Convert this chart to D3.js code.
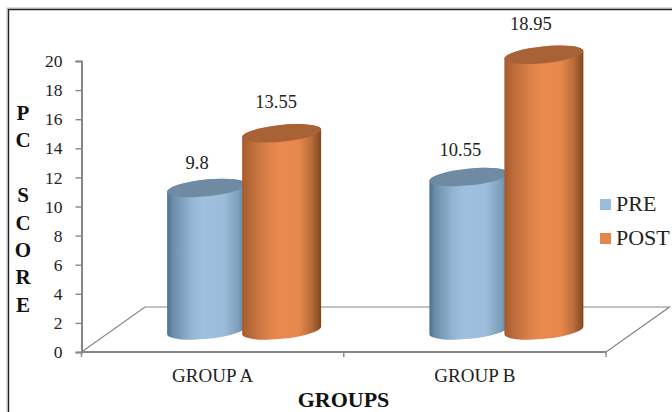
<!DOCTYPE html>
<html>
<head>
<meta charset="utf-8">
<script src="https://cdn.jsdelivr.net/npm/d3@7"></script>
<style>
  html, body { margin: 0; padding: 0; background: #fff; }
  svg { display: block; }
  text { font-family: "Liberation Serif", serif; fill: #222; }
</style>
</head>
<body>
<svg id="chart" width="672" height="412"></svg>
<script>
// Chart content
const groups = ["GROUP A", "GROUP B"];
const seriesNames = ["PRE", "POST"];
const preValues = [9.8, 10.55];
const postValues = [13.55, 18.95];
const yTicks = [0, 2, 4, 6, 8, 10, 12, 14, 16, 18, 20];
const yTitleLetters = ["P", "C", " ", "S", "C", "O", "R", "E"];
const xTitle = "GROUPS";

// Layout of the 3D plot box
const floorDepth = { dx: 63.5, dy: 45 };
const baseLift = 21.5;        // cylinder base centre sits this far above the front axis line
const depthShift = 31.5;      // cylinders stand mid-way into the floor
const cyl = { rx: 39.7, ry: 8.4, tilt: -5.75, step: 75 };

const svg = d3.select("#chart");
const y = d3.scaleLinear().domain([0, 20]).range([352, 61]);
const x = d3.scaleBand().domain(groups).range([81.5, 606]);
const sub = d3.scaleBand().domain(seriesNames).range([-cyl.step, cyl.step]);
const centerOf = (group, name) =>
  x(group) + x.bandwidth() / 2 + depthShift + sub(name) + sub.bandwidth() / 2;

// Outer frame: dark line with a pale edge above it
svg.append("path").attr("d", "M7,412V8H672").attr("fill", "none")
  .attr("stroke", "#bbb").attr("stroke-width", 1);
svg.append("path").attr("d", "M8.5,412V9.5H672").attr("fill", "none")
  .attr("stroke", "#222").attr("stroke-width", 1.4);

// Gradients that shade the cylinders
const defs = svg.append("defs");
const shades = {
  PRE: {
    top: "#6f8ba3",
    stops: [[0, "#4f7290"], [0.08, "#6b8eaa"], [0.3, "#93b5d3"], [0.45, "#9fc0df"],
            [0.72, "#9bbcda"], [0.9, "#7e9fba"], [1, "#5f7f9a"]]
  },
  POST: {
    top: "#a96236",
    stops: [[0, "#a65c2e"], [0.12, "#bb6c3a"], [0.35, "#e0834a"], [0.48, "#ea8a4f"],
            [0.72, "#e6874c"], [0.88, "#b86c3a"], [1, "#7e4821"]]
  }
};
seriesNames.forEach(name => {
  const g = defs.append("linearGradient").attr("id", "shade" + name)
    .attr("x1", 0).attr("x2", 1).attr("y1", 0).attr("y2", 0);
  shades[name].stops.forEach(s => g.append("stop").attr("offset", s[0]).attr("stop-color", s[1]));
});

// Floor parallelogram and its tick marks
const axisColor = "#868686";
const x0 = x.range()[0], x1 = x.range()[1], yF = y(0);
svg.append("path")
  .attr("d", `M${x0},${yF}L${x0 + floorDepth.dx},${yF - floorDepth.dy}L${x1 + floorDepth.dx},${yF - floorDepth.dy}L${x1},${yF}`)
  .attr("fill", "none").attr("stroke", axisColor).attr("stroke-width", 1.2);
svg.append("line").attr("x1", x0).attr("x2", x1).attr("y1", yF).attr("y2", yF)
  .attr("stroke", axisColor).attr("stroke-width", 1.8);

const xAxis = d3.axisBottom(x).tickSize(0).tickPadding(17);
const xG = svg.append("g").attr("transform", `translate(0,${yF})`).call(xAxis);
xG.select(".domain").remove();
xG.selectAll("text").style("font-family", '"Liberation Serif", serif')
  .style("font-size", "19px").style("fill", "#222");
const xBoundaries = [x0, x0 + x.step(), x1];
svg.selectAll(".xtick").data(xBoundaries).join("line").attr("class", "xtick")
  .attr("x1", d => d).attr("x2", d => d).attr("y1", yF).attr("y2", yF + 5)
  .attr("stroke", axisColor).attr("stroke-width", 1.4);

// Value axis
const yAxis = d3.axisLeft(y).tickValues(yTicks).tickSize(6).tickPadding(13);
const yG = svg.append("g").attr("transform", `translate(${x0},0)`).call(yAxis);
yG.select(".domain").attr("stroke", axisColor).attr("stroke-width", 2);
yG.selectAll(".tick line").attr("stroke", axisColor).attr("stroke-width", 1.4);
yG.selectAll("text").style("font-family", '"Liberation Serif", serif')
  .style("font-size", "17.5px").style("fill", "#222");

// Cylinder drawn from the value, base ellipse to top ellipse
function cylinder(cx, value) {
  const t = cyl.tilt * Math.PI / 180;
  const ex = cyl.rx * Math.cos(t), ey = cyl.rx * Math.sin(t);
  const topY = y(value) - baseLift, baseY = y(0) - baseLift;
  const arc = (sweep, px, py) => `A${cyl.rx},${cyl.ry} ${cyl.tilt} 0 ${sweep} ${px},${py}`;
  return {
    body: `M${cx - ex},${topY - ey}L${cx - ex},${baseY - ey}` +
          arc(0, cx + ex, baseY + ey) + `L${cx + ex},${topY + ey}` +
          arc(0, cx - ex, topY - ey) + "Z",
    top: `M${cx - ex},${topY - ey}` + arc(1, cx + ex, topY + ey) + arc(1, cx - ex, topY - ey) + "Z"
  };
}

const seriesValues = { PRE: preValues, POST: postValues };
seriesNames.forEach(name => {
  groups.forEach((g, i) => {
    const shape = cylinder(centerOf(g, name), seriesValues[name][i]);
    svg.append("path").attr("d", shape.body).attr("fill", `url(#shade${name})`);
    svg.append("path").attr("d", shape.top).attr("fill", shades[name].top);
  });
});

// Value labels above each cylinder
const labelGap = { PRE: [25, 27], POST: [32, 31] };
const labelShift = { PRE: [-9.5, -8.5], POST: [-5.5, -13] };
seriesNames.forEach(name => {
  groups.forEach((g, i) => {
    const v = seriesValues[name][i];
    svg.append("text").attr("x", centerOf(g, name) + labelShift[name][i])
      .attr("y", y(v) - baseLift - labelGap[name][i] + 6.5)
      .attr("text-anchor", "middle").style("font-size", "18.5px").text(v);
  });
});

// Legend
const legendY = { PRE: 204, POST: 238 };
seriesNames.forEach(name => {
  svg.append("rect").attr("x", 600).attr("y", legendY[name] - 5).attr("width", 11).attr("height", 11)
    .attr("fill", name === "PRE" ? "#9bbcdb" : "#e4854b");
  svg.append("text").attr("x", 616).attr("y", legendY[name] + 7)
    .style("font-size", "22px").text(name);
});

// Axis titles
svg.append("g").selectAll("text").data(yTitleLetters).join("text")
  .attr("x", 23).attr("y", (d, i) => 120 + i * 27.4)
  .attr("text-anchor", "middle").style("font-size", "21px").style("font-weight", "bold")
  .style("fill", "#111").text(d => d);
svg.append("text").attr("x", 343.5).attr("y", 407).attr("text-anchor", "middle")
  .style("font-size", "22px").style("font-weight", "bold").style("fill", "#111").text(xTitle);
</script>
</body>
</html>
